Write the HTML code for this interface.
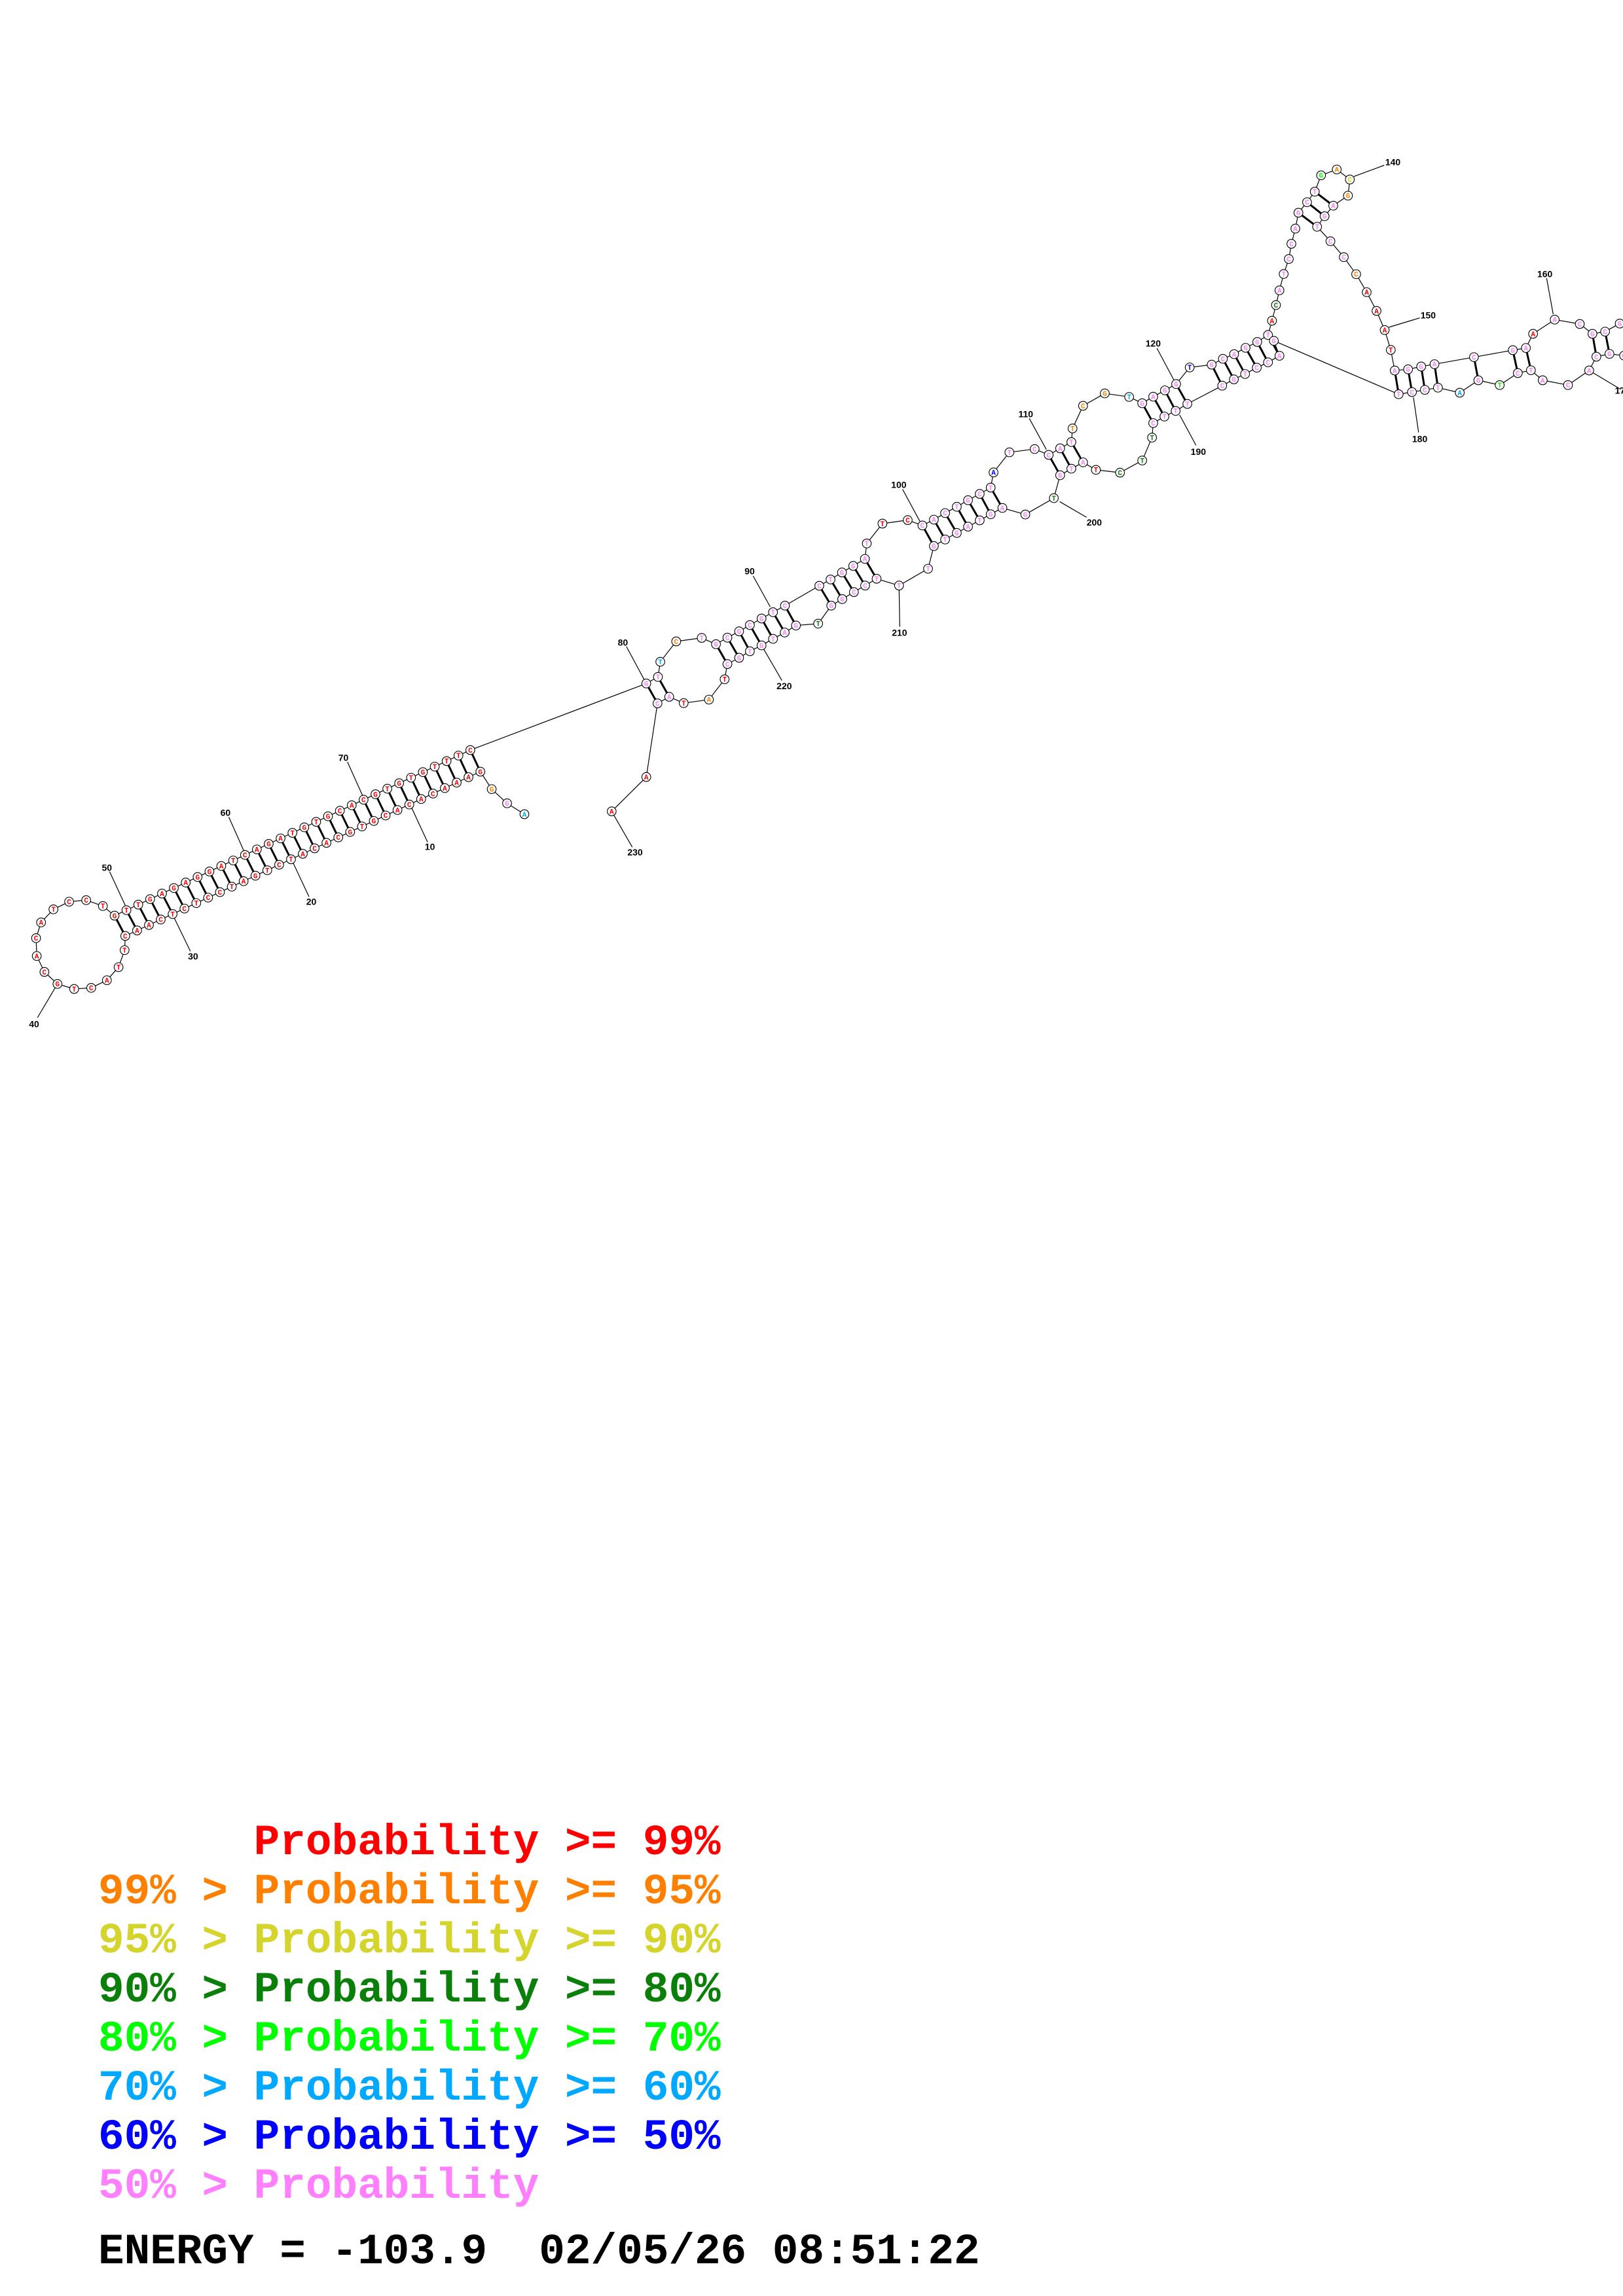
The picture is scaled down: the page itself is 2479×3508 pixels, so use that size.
<!DOCTYPE html>
<html><head><meta charset="utf-8">
<style>
html,body{margin:0;padding:0;background:#fff;overflow:hidden;width:2479px;height:3508px;}
svg{position:absolute;left:0;top:0;}
.lg{font-family:"Liberation Mono",monospace;font-weight:bold;font-size:66px;white-space:pre;}
</style></head><body>
<svg id="s" width="2479" height="3508" viewBox="0 0 2479 3508" xmlns="http://www.w3.org/2000/svg">
<g id="bb" stroke="#000" stroke-width="1.2" fill="none"></g>
<g id="pr" stroke="#000" stroke-width="3" fill="none"></g>
<g id="lb" stroke="#000" stroke-width="1.2" fill="none"></g>
<g id="nd"></g>
<g id="tx" font-family="Liberation Sans, sans-serif" font-weight="bold" font-size="14" fill="#000" text-anchor="middle"></g>
<text class="lg" x="150" y="2833" fill="#ff0000">      Probability &gt;= 99%</text>
<text class="lg" x="150" y="2908" fill="#ff8000">99% &gt; Probability &gt;= 95%</text>
<text class="lg" x="150" y="2983" fill="#d4d42c">95% &gt; Probability &gt;= 90%</text>
<text class="lg" x="150" y="3058" fill="#0a800a">90% &gt; Probability &gt;= 80%</text>
<text class="lg" x="150" y="3133" fill="#00ff00">80% &gt; Probability &gt;= 70%</text>
<text class="lg" x="150" y="3208" fill="#00a8ff">70% &gt; Probability &gt;= 60%</text>
<text class="lg" x="150" y="3283" fill="#0000ff">60% &gt; Probability &gt;= 50%</text>
<text class="lg" x="150" y="3358" fill="#ff80ff">50% &gt; Probability</text>
<text class="lg" x="150" y="3458" fill="#000">ENERGY = -103.9  02/05/26 08:51:22</text>
</svg>
<script>
var Z={A:[0,0,1,1],Z2:[0,1100,1/1.96,1/3],Z3:[880,820,1/2.8,1/2.8],Z4:[1240,560,1/2.8,1/2.8],Z5:[1700,200,1/2.8,1/2.8],Z6:[2059,380,1/3,1/3],Z7:[2339,440,1/3,1/3]};
function T(z,x,y){var t=Z[z];return [t[0]+x*t[2],t[1]+y*t[3]];}
var C={r:"#ff0000",o:"#ff8000",y:"#d4d42c",g:"#0a800a",G:"#00ff00",c:"#00a8ff",b:"#0000ff",p:"#ff80ff"};
var N=[];
function add(n,z,x,y,l,c){N[n]={p:T(z,x,y),l:l,c:c||"p"};}
add(1,"A",801,1244,"A","c");
add(2,"Z2",1518,382,"G","p");
add(3,"Z2",1472,317,"G","o");
var low="GAAACACACGTGCACATCTGATCCTCTCAAC";
for(var i=0;i<31;i++){var t=i/30;add(4+i,"Z2",1438+(375-1438)*t,237+(990-237)*t,low[i],"r");}
var loop=[[373,1055],[355,1133],[320,1193],[273,1228],[222,1233],[172,1210],[133,1155],[110,1082],[108,1000],[123,928],[160,868],[207,833],[258,826],[308,853]];
var ls="TTACTGCACATCCT";
for(i=0;i<14;i++)add(35+i,"Z2",loop[i][0],loop[i][1],ls[i],"r");
var up="GTTGAGAGGATCAGATGTGCACGTGTGTTTC";
for(i=0;i<31;i++){t=i/30;add(49+i,"Z2",343+(1408-343)*t,897+(138-897)*t,up[i],"r");}
var D=[
[80,"Z3",300,628,"G"],[81,"Z3",350,600,"T"],[82,"Z3",360,535,"T","c"],[83,"Z3",428,448,"C","o"],[84,"Z3",537,433,"T"],[85,"Z3",598,460,"G"],[86,"Z3",647,432,"C"],[87,"Z3",697,405,"G"],[88,"Z3",743,378,"C"],[89,"Z3",793,350,"G"],[90,"Z3",842,323,"T"],[91,"Z3",893,295,"C"],[92,"Z3",1040,210,"C"],[93,"Z3",1088,183,"T"],[94,"Z3",1137,153,"G"],[95,"Z3",1185,125,"G"],[96,"Z3",1235,95,"A"],
[97,"Z4",235,757,"T"],[98,"Z4",302,672,"T","r"],[99,"Z4",410,657,"C","r"],[100,"Z4",473,680,"C"],[101,"Z4",522,655,"A"],[102,"Z4",570,627,"C"],[103,"Z4",620,600,"T"],[104,"Z4",668,572,"G"],[105,"Z4",718,545,"C"],[106,"Z4",765,518,"T"],[107,"Z4",777,453,"A","b"],[108,"Z4",845,367,"T"],[109,"Z4",953,353,"C"],[110,"Z4",1013,378,"C"],[111,"Z4",1062,350,"A"],[112,"Z4",1110,323,"T"],[113,"Z4",1115,265,"T","o"],[114,"Z4",1160,168,"C","o"],[115,"Z4",1253,115,"G","o"],[116,"Z4",1357,130,"T","c"],
[117,"Z5",125,1165,"G"],[118,"Z5",172,1137,"A"],[119,"Z5",222,1110,"G"],[120,"Z5",270,1083,"G"],[121,"Z5",328,1012,"T","b"],[122,"Z5",422,1000,"G"],[123,"Z5",470,975,"C"],[124,"Z5",518,955,"A"],[125,"Z5",567,928,"G"],[126,"Z5",617,903,"G"],[127,"Z5",663,873,"T"],[128,"Z5",680,812,"A","r"],[129,"Z5",697,745,"C","g"],[130,"Z5",712,682,"A"],[131,"Z5",730,612,"T"],[132,"Z5",752,548,"C"],[133,"Z5",763,483,"C"],[134,"Z5",780,418,"A"],[135,"Z5",793,350,"G"],[136,"Z5",830,305,"C"],[137,"Z5",863,260,"T"],[138,"Z5",890,190,"G","G"],[139,"Z5",957,165,"A","o"],[140,"Z5",1013,208,"C","y"],[141,"Z5",1005,277,"G","o"],[142,"Z5",942,320,"A"],[143,"Z5",905,365,"G"],[144,"Z5",873,410,"T"],[145,"Z5",930,472,"C"],[146,"Z5",987,540,"C"],[147,"Z5",1040,613,"C","o"],[148,"Z5",1085,690,"A","r"],[149,"Z5",1127,770,"A","r"],[150,"Z5",1162,852,"A","r"],[151,"Z5",1188,937,"T","r"],[152,"Z5",1205,1025,"A"],[153,"Z5",1262,1020,"G"],[154,"Z5",1318,1008,"G"],[155,"Z5",1375,998,"A"],
[156,"Z6",577,497,"C"],[157,"Z6",755,465,"G"],[158,"Z6",815,455,"A"],[159,"Z6",848,390,"A","r"],[160,"Z6",947,325,"A"],[161,"Z6",1062,345,"C"],
[162,"Z7",280,210,"G"],[163,"Z7",338,200,"C"],[164,"Z7",405,163,"G"],[167,"Z7",425,310,"G"],[168,"Z7",358,302,"G"],[169,"Z7",298,315,"C"],[170,"Z7",265,378,"A"],
[171,"Z6",1008,625,"C"],[172,"Z6",892,603,"A"],[173,"Z6",838,557,"T"],[174,"Z6",778,570,"C"],[175,"Z6",695,625,"T","G"],[176,"Z6",597,603,"G"],[177,"Z6",512,660,"A","c"],[178,"Z6",412,637,"T"],[179,"Z6",352,647,"C"],[180,"Z6",293,657,"C"],[181,"Z6",232,667,"T"],
[182,"Z5",688,898,"G"],[183,"Z5",712,962,"A"],[184,"Z5",663,990,"C"],[185,"Z5",615,1013,"C"],[186,"Z5",565,1040,"T"],[187,"Z5",517,1063,"G"],[188,"Z5",467,1090,"C"],[189,"Z5",318,1168,"T"],[190,"Z5",268,1198,"T"],[191,"Z5",220,1222,"T"],[192,"Z5",172,1250,"C"],[193,"Z5",167,1312,"T","g"],[194,"Z5",125,1410,"T","g"],[195,"Z5",30,1462,"C","g"],
[196,"Z4",1215,442,"T","r"],[197,"Z4",1160,410,"A"],[198,"Z4",1110,437,"T"],[199,"Z4",1062,465,"G"],[200,"Z4",1035,563,"T","g"],[201,"Z4",913,633,"G"],[202,"Z4",815,605,"A"],[203,"Z4",765,632,"G"],[204,"Z4",718,658,"T"],[205,"Z4",668,685,"A"],[206,"Z4",620,712,"G"],[207,"Z4",570,740,"T"],[208,"Z4",522,768,"G"],[209,"Z4",497,865,"T"],[210,"Z4",373,937,"T"],[211,"Z4",277,908,"T"],[212,"Z4",228,937,"C"],[213,"Z4",180,965,"C"],[214,"Z4",130,995,"G"],[215,"Z4",83,1023,"G"],
[216,"Z3",1035,372,"T","g"],[217,"Z3",940,380,"G"],[218,"Z3",892,410,"A"],[219,"Z3",842,437,"T"],[220,"Z3",793,465,"G"],[221,"Z3",743,490,"T"],[222,"Z3",697,518,"G"],[223,"Z3",647,545,"C"],[224,"Z3",635,610,"T","r"],[225,"Z3",568,697,"A","o"],[226,"Z3",460,712,"T","r"],[227,"Z3",398,685,"A"],[228,"Z3",348,713,"C"],[229,"Z3",300,1028,"A","r"],[230,"Z3",152,1175,"A","r"]
];
D.forEach(function(d){add(d[0],d[1],d[2],d[3],d[4],d[5]);});
var P=[];
for(i=4;i<=34;i++)P.push([i,83-i]);
P.push([80,228],[81,227]);
for(i=85;i<=91;i++)P.push([i,308-i]);
for(i=92;i<=96;i++)P.push([i,307-i]);
for(i=100;i<=106;i++)P.push([i,308-i]);
for(i=110;i<=112;i++)P.push([i,309-i]);
for(i=117;i<=120;i++)P.push([i,309-i]);
for(i=122;i<=127;i++)P.push([i,310-i]);
for(i=135;i<=137;i++)P.push([i,279-i]);
for(i=152;i<=155;i++)P.push([i,333-i]);
P.push([156,176],[157,174],[158,173],[162,169],[163,168]);
var L=[
["Z2",293.5*2.2374/1,0,"",0,0,0,0]];
L=[
["Z2",1287,580,"10",1228,388,1280,560],["Z2",932,832,"20",873,640,925,810],["Z2",578,1083,"30",516,890,570,1060],["Z2",102,1393,"40",172,1210,112,1365],["Z2",320,677,"50",375,850,328,695],["Z2",675,425,"60",730,600,685,445],["Z2",1028,172,"70",1085,345,1040,192],
["Z3",200,452,"80",300,628,215,470],["Z3",742,147,"90",830,300,757,168],["Z4",372,505,"100",462,662,388,525],["Z4",915,203,"110",1003,355,930,222],["Z5",172,908,"120",260,1065,188,930],["Z5",1197,133,"140",1030,195,1160,147],["Z5",1348,788,"150",1180,840,1312,800],["Z6",902,115,"160",940,300,910,135],["Z7",418,470,"170",265,378,410,465],["Z5",1312,1317,"180",1285,1140,1307,1290],["Z5",365,1372,"190",285,1215,355,1345],["Z4",1208,667,"200",1060,578,1175,645],["Z4",375,1138,"210",373,937,376,1113],["Z3",890,638,"220",793,465,880,615],["Z3",252,1350,"230",152,1175,240,1328]
];
var NS="http://www.w3.org/2000/svg";
function el(tag,at,par,txt){var e=document.createElementNS(NS,tag);for(var k in at)e.setAttribute(k,at[k]);if(txt)e.textContent=txt;document.getElementById(par).appendChild(e);return e;}
for(i=1;i<230;i++){if(N[i]&&N[i+1])el("line",{x1:N[i].p[0],y1:N[i].p[1],x2:N[i+1].p[0],y2:N[i+1].p[1]},"bb");}
P.forEach(function(q){var a=N[q[0]],b=N[q[1]];if(a&&b)el("line",{x1:a.p[0],y1:a.p[1],x2:b.p[0],y2:b.p[1]},"pr");});
L.forEach(function(l){var a=T(l[0],l[4],l[5]),b=T(l[0],l[6],l[7]),c=T(l[0],l[1],l[2]);el("line",{x1:a[0],y1:a[1],x2:b[0],y2:b[1]},"lb");el("text",{x:c[0],y:c[1]+5},"tx",l[3]);});
for(i=1;i<=230;i++){var n=N[i];if(!n)continue;
el("circle",{cx:n.p[0],cy:n.p[1],r:6.8,fill:"#fff",stroke:"#000","stroke-width":1.1},"nd");
el("text",{x:n.p[0],y:n.p[1]+3.8,"text-anchor":"middle","font-family":"Liberation Mono, monospace","font-weight":"bold","font-size":"11",fill:C[n.c]},"nd",n.l);}
</script>
</body></html>
